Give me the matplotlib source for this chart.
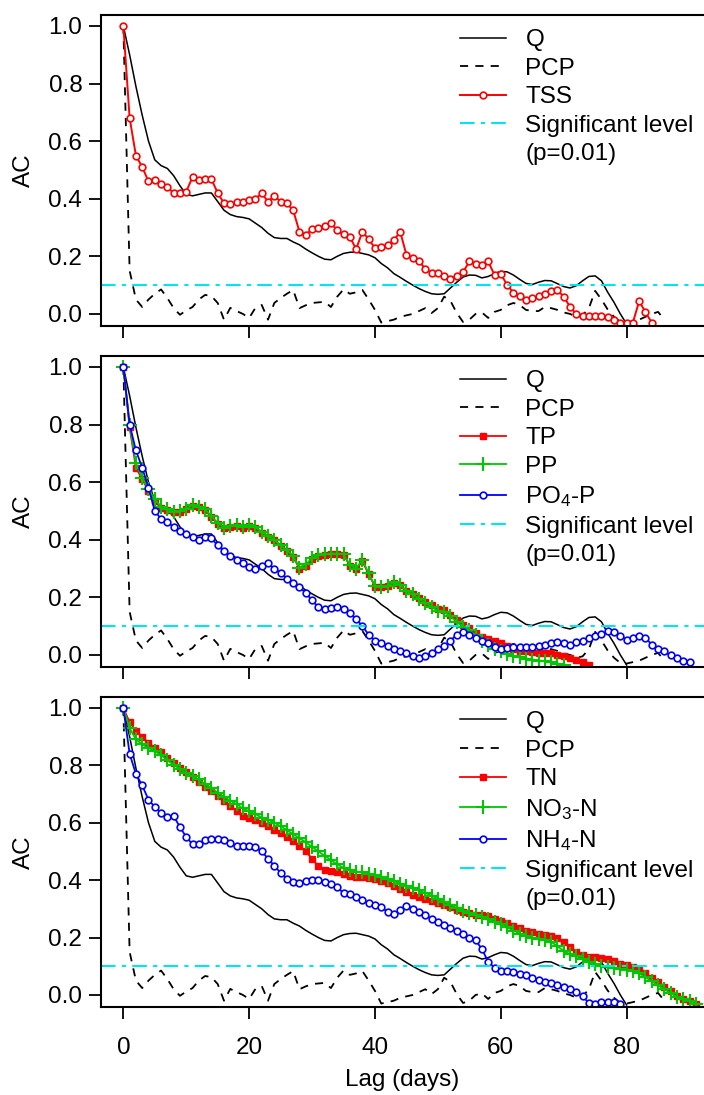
import matplotlib
matplotlib.use("Agg")
import matplotlib.pyplot as plt
import numpy as np

plt.rcParams['font.family'] = ['Liberation Sans', 'DejaVu Sans']
plt.rcParams['font.size'] = 17.5
plt.rcParams['mathtext.default'] = 'regular'

# autocorrelation values, one per day of lag
q = [1.0, 0.90, 0.79, 0.69, 0.60, 0.535, 0.515, 0.505, 0.48, 0.445,
     0.415, 0.41, 0.415, 0.42, 0.42, 0.39, 0.36, 0.345, 0.338, 0.335,
     0.33, 0.315, 0.30, 0.28, 0.265, 0.262, 0.262, 0.25, 0.24, 0.225,
     0.212, 0.20, 0.19, 0.188, 0.20, 0.21, 0.214, 0.215, 0.21, 0.205,
     0.195, 0.175, 0.16, 0.14, 0.127, 0.113, 0.10, 0.088, 0.078, 0.07,
     0.068, 0.07, 0.09, 0.11, 0.128, 0.135, 0.134, 0.125, 0.13, 0.14,
     0.148, 0.146, 0.135, 0.12, 0.106, 0.102, 0.11, 0.116, 0.115, 0.105,
     0.095, 0.09, 0.098, 0.115, 0.13, 0.132, 0.115, 0.075, 0.04, 0.0,
     -0.035]

pcp = [1.0, 0.15, 0.05, 0.024, 0.05, 0.07, 0.085, 0.055, 0.02, -0.003,
       0.012, 0.024, 0.05, 0.066, 0.062, 0.038, -0.02, 0.021, 0.01, 0.0,
       -0.014, 0.021, 0.031, -0.02, 0.038, 0.055, 0.07, 0.083, 0.02, 0.03,
       0.038, 0.04, 0.042, 0.024, 0.06, 0.085, 0.07, 0.075, 0.083, 0.05,
       0.014, -0.03, -0.025, -0.02, -0.01, -0.005, 0.0, 0.01, 0.02, 0.003,
       0.02, 0.06, 0.045, 0.003, -0.028, -0.02, 0.0, 0.005, -0.014, 0.007,
       0.014, 0.03, 0.038, 0.031, 0.014, 0.01, 0.01, 0.024, 0.02, 0.014,
       0.005, 0.0, -0.01, -0.005, 0.02, 0.08, 0.05, 0.015, -0.01, -0.028,
       -0.03, -0.025, -0.02, -0.01, 0.0, 0.007, -0.02]

tss = [1.0, 0.68, 0.55, 0.51, 0.46, 0.465, 0.45, 0.44, 0.42, 0.42,
       0.425, 0.475, 0.465, 0.47, 0.468, 0.42, 0.384, 0.38, 0.388, 0.39,
       0.396, 0.40, 0.419, 0.39, 0.41, 0.39, 0.384, 0.36, 0.285, 0.275,
       0.295, 0.30, 0.306, 0.315, 0.29, 0.276, 0.268, 0.225, 0.285, 0.26,
       0.228, 0.232, 0.24, 0.255, 0.286, 0.205, 0.195, 0.185, 0.155, 0.143,
       0.141, 0.133, 0.12, 0.133, 0.145, 0.182, 0.175, 0.17, 0.182, 0.135,
       0.14, 0.10, 0.074, 0.062, 0.05, 0.055, 0.062, 0.07, 0.08, 0.083,
       0.06, 0.025, 0.0, -0.006, -0.009, -0.009, -0.009, -0.01, -0.02, -0.03,
       -0.032, -0.03, 0.045, 0.005, -0.03]

tp = [1.0, 0.79, 0.65, 0.61, 0.57, 0.535, 0.51, 0.503, 0.497, 0.497,
      0.505, 0.517, 0.513, 0.503, 0.48, 0.455, 0.44, 0.443, 0.448, 0.44,
      0.447, 0.44, 0.425, 0.41, 0.398, 0.378, 0.362, 0.34, 0.30, 0.31,
      0.332, 0.345, 0.348, 0.35, 0.35, 0.348, 0.31, 0.298, 0.325, 0.28,
      0.237, 0.235, 0.238, 0.25, 0.242, 0.222, 0.213, 0.198, 0.185, 0.172,
      0.158, 0.155, 0.14, 0.12, 0.105, 0.092, 0.075, 0.062, 0.055, 0.05,
      0.04, 0.03, 0.022, 0.015, 0.012, 0.01, 0.006, 0.008, 0.006, 0.0,
      -0.004, -0.01, -0.018, -0.025, -0.036]

pp = [1.0, 0.80, 0.665, 0.615, 0.575, 0.54, 0.515, 0.506, 0.498, 0.50,
      0.508, 0.52, 0.515, 0.505, 0.482, 0.458, 0.442, 0.447, 0.45, 0.443,
      0.45, 0.443, 0.428, 0.412, 0.40, 0.38, 0.364, 0.343, 0.303, 0.315,
      0.335, 0.348, 0.35, 0.352, 0.352, 0.35, 0.312, 0.30, 0.33, 0.283,
      0.24, 0.237, 0.24, 0.252, 0.243, 0.222, 0.21, 0.195, 0.18, 0.168,
      0.153, 0.15, 0.134, 0.115, 0.098, 0.085, 0.068, 0.048, 0.033, 0.022,
      0.012, 0.004, -0.003, -0.008, -0.013, -0.016, -0.02, -0.022, -0.025, -0.03,
      -0.036]

po4 = [1.0, 0.80, 0.71, 0.65, 0.58, 0.50, 0.472, 0.46, 0.445, 0.43,
       0.42, 0.408, 0.40, 0.41, 0.405, 0.38, 0.36, 0.345, 0.33, 0.318,
       0.305, 0.30, 0.31, 0.318, 0.30, 0.285, 0.265, 0.25, 0.235, 0.215,
       0.19, 0.165, 0.16, 0.163, 0.166, 0.158, 0.145, 0.125, 0.10, 0.07,
       0.05, 0.04, 0.032, 0.022, 0.012, 0.005, -0.005, -0.012, -0.005, 0.008,
       0.02, 0.03, 0.05, 0.07, 0.078, 0.07, 0.058, 0.048, 0.04, 0.028,
       0.022, 0.025, 0.028, 0.028, 0.028, 0.028, 0.03, 0.035, 0.042, 0.045,
       0.042, 0.035, 0.045, 0.05, 0.058, 0.065, 0.072, 0.082, 0.08, 0.065,
       0.053, 0.06, 0.067, 0.06, 0.035, 0.022, 0.012, -0.002, -0.012, -0.022,
       -0.025]

tn = [1.0, 0.95, 0.92, 0.90, 0.878, 0.86, 0.845, 0.826, 0.808, 0.79,
      0.775, 0.758, 0.742, 0.725, 0.71, 0.693, 0.677, 0.66, 0.64, 0.625,
      0.617, 0.608, 0.598, 0.587, 0.576, 0.565, 0.552, 0.538, 0.52, 0.50,
      0.475, 0.448, 0.435, 0.432, 0.428, 0.42, 0.415, 0.412, 0.41, 0.407,
      0.405, 0.398, 0.39, 0.38, 0.368, 0.357, 0.348, 0.34, 0.334, 0.328,
      0.32, 0.313, 0.305, 0.297, 0.29, 0.284, 0.28, 0.277, 0.274, 0.266,
      0.258, 0.25, 0.241, 0.232, 0.224, 0.218, 0.213, 0.21, 0.207, 0.20,
      0.185, 0.168, 0.15, 0.138, 0.133, 0.131, 0.128, 0.125, 0.117, 0.109,
      0.103, 0.097, 0.088, 0.075, 0.06, 0.044, 0.028, 0.012, -0.004, -0.015,
      -0.022, -0.031]

no3 = [1.0, 0.93, 0.89, 0.873, 0.86, 0.85, 0.835, 0.818, 0.802, 0.788,
       0.773, 0.762, 0.751, 0.735, 0.72, 0.705, 0.69, 0.677, 0.665, 0.65,
       0.64, 0.63, 0.618, 0.61, 0.60, 0.588, 0.574, 0.56, 0.546, 0.532,
       0.516, 0.50, 0.485, 0.47, 0.455, 0.443, 0.434, 0.43, 0.427, 0.423,
       0.418, 0.41, 0.403, 0.396, 0.388, 0.38, 0.372, 0.364, 0.355, 0.346,
       0.335, 0.325, 0.314, 0.303, 0.293, 0.285, 0.278, 0.27, 0.263, 0.255,
       0.247, 0.236, 0.224, 0.214, 0.206, 0.20, 0.195, 0.19, 0.185, 0.17,
       0.153, 0.142, 0.135, 0.125, 0.115, 0.107, 0.10, 0.096, 0.093, 0.09,
       0.087, 0.084, 0.075, 0.062, 0.047, 0.033, 0.02, 0.006, -0.006, -0.015,
       -0.022, -0.031]

nh4 = [1.0, 0.84, 0.77, 0.73, 0.68, 0.655, 0.635, 0.62, 0.623, 0.585,
       0.55, 0.525, 0.525, 0.54, 0.545, 0.545, 0.54, 0.528, 0.518, 0.518,
       0.518, 0.515, 0.50, 0.475, 0.45, 0.425, 0.405, 0.395, 0.39, 0.396,
       0.40, 0.40, 0.395, 0.385, 0.375, 0.355, 0.35, 0.34, 0.33, 0.32,
       0.315, 0.305, 0.29, 0.282, 0.297, 0.31, 0.30, 0.29, 0.277, 0.266,
       0.255, 0.245, 0.232, 0.222, 0.212, 0.20, 0.19, 0.16, 0.115, 0.095,
       0.084, 0.082, 0.079, 0.073, 0.068, 0.06, 0.052, 0.046, 0.04, 0.035,
       0.029, 0.02, 0.01, -0.005, -0.028, -0.03, -0.025, -0.025, -0.025, -0.03]

sig_level = 0.1

RED = '#ff0000'
GREEN = '#00c800'
BLUE = '#0000ff'
CYAN = '#00e5ee'


def lags(vals):
    return np.arange(len(vals))


def base_lines(ax):
    ax.plot(lags(q), q, color='black', lw=1.1, label='Q')
    ax.plot(lags(pcp), pcp, color='black', lw=1.3, ls=(0, (4.5, 4)), label='PCP')


def finish(ax, bottom):
    ax.axhline(sig_level, color=CYAN, lw=1.5, ls=(0, (7, 3, 2, 3)),
               label='Significant level')
    ax.plot([], [], color='none', label='(p=0.01)')
    ax.set_xlim(-3.55, 92.3)
    ax.set_ylim(-0.042, 1.038)
    ax.set_xticks([0, 20, 40, 60, 80])
    ax.set_yticks(np.arange(0, 1.01, 0.2))
    ax.set_yticklabels(['%.1f' % v for v in np.arange(0, 1.01, 0.2)])
    ax.spines['right'].set_visible(False)
    for s in ['left', 'bottom', 'top']:
        ax.spines[s].set_linewidth(1.5)
    ax.tick_params(axis='both', direction='out', length=8.5, width=1.3)
    ax.tick_params(axis='y', pad=5)
    ax.tick_params(axis='x', pad=13, labelbottom=bottom)
    ax.set_ylabel('AC')
    ax.yaxis.set_label_coords(-0.109, 0.5)
    ax.legend(loc='upper left', bbox_to_anchor=(0.595, 0.955), frameon=False,
              borderpad=0, borderaxespad=0, handlelength=1.9,
              handletextpad=0.8, labelspacing=0.27)


fig = plt.figure(figsize=(7.04, 10.95), dpi=100)
left = 101 / 704
width = 1 - left

ax1 = fig.add_axes([left, 1 - 326 / 1095, width, 311 / 1095])
base_lines(ax1)
ax1.plot(lags(tss), tss, color=RED, lw=1.4, marker='o', ms=4.8, mfc='white',
         mec=RED, mew=1.2, label='TSS')
finish(ax1, False)

ax2 = fig.add_axes([left, 1 - 667 / 1095, width, 311 / 1095])
base_lines(ax2)
ax2.plot(lags(tp), tp, color=RED, lw=1.3, marker='s', ms=5, mec=RED, label='TP')
ax2.plot(lags(pp), pp, color=GREEN, lw=1.3, marker='+', ms=9.5, mew=1.5, label='PP')
ax2.plot(lags(po4), po4, color=BLUE, lw=1.3, marker='o', ms=4.8, mfc='white',
         mec=BLUE, mew=1.2, label='PO$_4$-P')
finish(ax2, False)

ax3 = fig.add_axes([left, 1 - 1007 / 1095, width, 310 / 1095])
base_lines(ax3)
ax3.plot(lags(tn), tn, color=RED, lw=1.3, marker='s', ms=5, mec=RED, label='TN')
ax3.plot(lags(no3), no3, color=GREEN, lw=1.3, marker='+', ms=9.5, mew=1.5, label='NO$_3$-N')
ax3.plot(lags(nh4), nh4, color=BLUE, lw=1.3, marker='o', ms=4.8, mfc='white',
         mec=BLUE, mew=1.2, label='NH$_4$-N')
finish(ax3, True)
ax3.set_xlabel('Lag (days)')
ax3.xaxis.set_label_coords(0.5, -0.2)

fig.savefig('out.png', dpi=100)
